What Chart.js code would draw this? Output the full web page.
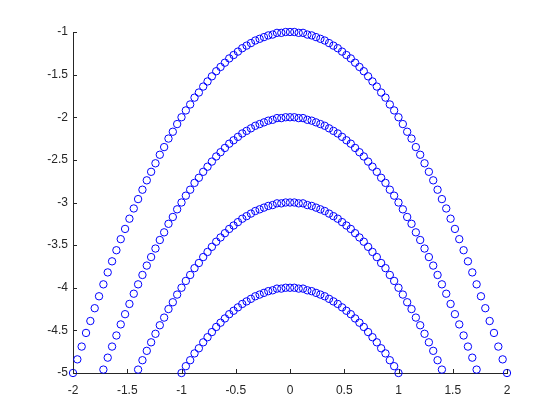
<!DOCTYPE html>
<html>
<head>
<meta charset="utf-8">
<script src="https://cdn.jsdelivr.net/npm/chart.js@4"></script>
<style>
  html, body { margin: 0; padding: 0; background: #fff; }
  #wrap { width: 560px; height: 420px; position: relative; }
</style>
</head>
<body>
<div id="wrap"><canvas id="chart"></canvas></div>
<script>
const xValues = [
  -2, -1.96, -1.92, -1.88, -1.84, -1.8, -1.76, -1.72, -1.68, -1.64,
  -1.6, -1.56, -1.52, -1.48, -1.44, -1.4, -1.36, -1.32, -1.28, -1.24,
  -1.2, -1.16, -1.12, -1.08, -1.04, -1, -0.96, -0.92, -0.88, -0.84,
  -0.8, -0.76, -0.72, -0.68, -0.64, -0.6, -0.56, -0.52, -0.48, -0.44,
  -0.4, -0.36, -0.32, -0.28, -0.24, -0.2, -0.16, -0.12, -0.08, -0.04,
  0, 0.04, 0.08, 0.12, 0.16, 0.2, 0.24, 0.28, 0.32, 0.36,
  0.4, 0.44, 0.48, 0.52, 0.56, 0.6, 0.64, 0.68, 0.72, 0.76,
  0.8, 0.84, 0.88, 0.92, 0.96, 1, 1.04, 1.08, 1.12, 1.16,
  1.2, 1.24, 1.28, 1.32, 1.36, 1.4, 1.44, 1.48, 1.52, 1.56,
  1.6, 1.64, 1.68, 1.72, 1.76, 1.8, 1.84, 1.88, 1.92, 1.96,
  2
];

// four arches, null where the point is below the plot
const arch1 = [
  -5, -4.84, -4.69, -4.53, -4.39, -4.24, -4.1, -3.96, -3.82, -3.69,
  -3.56, -3.43, -3.31, -3.19, -3.07, -2.96, -2.85, -2.74, -2.64, -2.54,
  -2.44, -2.35, -2.25, -2.17, -2.08, -2, -1.92, -1.85, -1.77, -1.71,
  -1.64, -1.58, -1.52, -1.46, -1.41, -1.36, -1.31, -1.27, -1.23, -1.19,
  -1.16, -1.13, -1.1, -1.08, -1.06, -1.04, -1.03, -1.01, -1.01, -1,
  -1, -1, -1.01, -1.01, -1.03, -1.04, -1.06, -1.08, -1.1, -1.13,
  -1.16, -1.19, -1.23, -1.27, -1.31, -1.36, -1.41, -1.46, -1.52, -1.58,
  -1.64, -1.71, -1.77, -1.85, -1.92, -2, -2.08, -2.17, -2.25, -2.35,
  -2.44, -2.54, -2.64, -2.74, -2.85, -2.96, -3.07, -3.19, -3.31, -3.43,
  -3.56, -3.69, -3.82, -3.96, -4.1, -4.24, -4.39, -4.53, -4.69, -4.84,
  -5
];

const arch2 = [
  null, null, null, null, null, null, null, -4.96, -4.82, -4.69,
  -4.56, -4.43, -4.31, -4.19, -4.07, -3.96, -3.85, -3.74, -3.64, -3.54,
  -3.44, -3.35, -3.25, -3.17, -3.08, -3, -2.92, -2.85, -2.77, -2.71,
  -2.64, -2.58, -2.52, -2.46, -2.41, -2.36, -2.31, -2.27, -2.23, -2.19,
  -2.16, -2.13, -2.1, -2.08, -2.06, -2.04, -2.03, -2.01, -2.01, -2,
  -2, -2, -2.01, -2.01, -2.03, -2.04, -2.06, -2.08, -2.1, -2.13,
  -2.16, -2.19, -2.23, -2.27, -2.31, -2.36, -2.41, -2.46, -2.52, -2.58,
  -2.64, -2.71, -2.77, -2.85, -2.92, -3, -3.08, -3.17, -3.25, -3.35,
  -3.44, -3.54, -3.64, -3.74, -3.85, -3.96, -4.07, -4.19, -4.31, -4.43,
  -4.56, -4.69, -4.82, -4.96, null, null, null, null, null, null,
  null
];

const arch3 = [
  null, null, null, null, null, null, null, null, null, null,
  null, null, null, null, null, -4.96, -4.85, -4.74, -4.64, -4.54,
  -4.44, -4.35, -4.25, -4.17, -4.08, -4, -3.92, -3.85, -3.77, -3.71,
  -3.64, -3.58, -3.52, -3.46, -3.41, -3.36, -3.31, -3.27, -3.23, -3.19,
  -3.16, -3.13, -3.1, -3.08, -3.06, -3.04, -3.03, -3.01, -3.01, -3,
  -3, -3, -3.01, -3.01, -3.03, -3.04, -3.06, -3.08, -3.1, -3.13,
  -3.16, -3.19, -3.23, -3.27, -3.31, -3.36, -3.41, -3.46, -3.52, -3.58,
  -3.64, -3.71, -3.77, -3.85, -3.92, -4, -4.08, -4.17, -4.25, -4.35,
  -4.44, -4.54, -4.64, -4.74, -4.85, -4.96, null, null, null, null,
  null, null, null, null, null, null, null, null, null, null,
  null
];

const arch4 = [
  null, null, null, null, null, null, null, null, null, null,
  null, null, null, null, null, null, null, null, null, null,
  null, null, null, null, null, -5, -4.92, -4.85, -4.77, -4.71,
  -4.64, -4.58, -4.52, -4.46, -4.41, -4.36, -4.31, -4.27, -4.23, -4.19,
  -4.16, -4.13, -4.1, -4.08, -4.06, -4.04, -4.03, -4.01, -4.01, -4,
  -4, -4, -4.01, -4.01, -4.03, -4.04, -4.06, -4.08, -4.1, -4.13,
  -4.16, -4.19, -4.23, -4.27, -4.31, -4.36, -4.41, -4.46, -4.52, -4.58,
  -4.64, -4.71, -4.77, -4.85, -4.92, -5, null, null, null, null,
  null, null, null, null, null, null, null, null, null, null,
  null, null, null, null, null, null, null, null, null, null,
  null
];

const xTicks = [-2, -1.5, -1, -0.5, 0, 0.5, 1, 1.5, 2];
const yTicks = [-5, -4.5, -4, -3.5, -3, -2.5, -2, -1.5, -1];

const axisColor = "#262626";
const markerColor = "#0000ff";

function points(ys) {
  return xValues
    .map((x, i) => ({ x: x, y: ys[i] }))
    .filter((p) => p.y !== null);
}

function series(ys) {
  return {
    data: points(ys),
    showLine: false,
    pointStyle: "circle",
    pointRadius: 3.7,
    pointBorderWidth: 1,
    pointBorderColor: markerColor,
    pointBackgroundColor: "rgba(0,0,0,0)",
    clip: false
  };
}

// small tick marks pointing into the plot, like the original
const innerTicks = {
  id: "innerTicks",
  afterDraw(chart) {
    const ctx = chart.ctx;
    const area = chart.chartArea;
    const xs = chart.scales.x;
    const ys = chart.scales.y;
    ctx.save();
    ctx.strokeStyle = axisColor;
    ctx.lineWidth = 1;
    ctx.beginPath();
    xTicks.forEach((v) => {
      const px = Math.round(xs.getPixelForValue(v)) + 0.5;
      ctx.moveTo(px, area.bottom);
      ctx.lineTo(px, area.bottom - 4);
    });
    yTicks.forEach((v) => {
      const py = Math.round(ys.getPixelForValue(v)) + 0.5;
      ctx.moveTo(area.left, py);
      ctx.lineTo(area.left + 4, py);
    });
    ctx.stroke();
    ctx.restore();
  }
};

Chart.defaults.font.family = "'Liberation Sans', Arial, sans-serif";
Chart.defaults.font.size = 12;
Chart.defaults.color = axisColor;

new Chart(document.getElementById("chart"), {
  type: "scatter",
  data: {
    datasets: [series(arch1), series(arch2), series(arch3), series(arch4)]
  },
  options: {
    responsive: true,
    maintainAspectRatio: false,
    animation: false,
    layout: { padding: { top: 32, right: 53, left: 0, bottom: 0 } },
    plugins: {
      legend: { display: false },
      tooltip: { enabled: false }
    },
    scales: {
      x: {
        type: "linear",
        min: -2,
        max: 2,
        afterBuildTicks: (s) => { s.ticks = xTicks.map((v) => ({ value: v })); },
        afterFit: (s) => { s.height = 47; },
        grid: { drawOnChartArea: false, drawTicks: false },
        border: { color: axisColor, width: 1 },
        ticks: { padding: 10, callback: (v) => String(v) }
      },
      y: {
        type: "linear",
        min: -5,
        max: -1,
        afterBuildTicks: (s) => { s.ticks = yTicks.map((v) => ({ value: v })); },
        afterFit: (s) => { s.width = 73; },
        grid: { drawOnChartArea: false, drawTicks: false },
        border: { color: axisColor, width: 1 },
        ticks: { padding: 5, callback: (v) => String(v) }
      }
    }
  },
  plugins: [innerTicks]
});
</script>
</body>
</html>
